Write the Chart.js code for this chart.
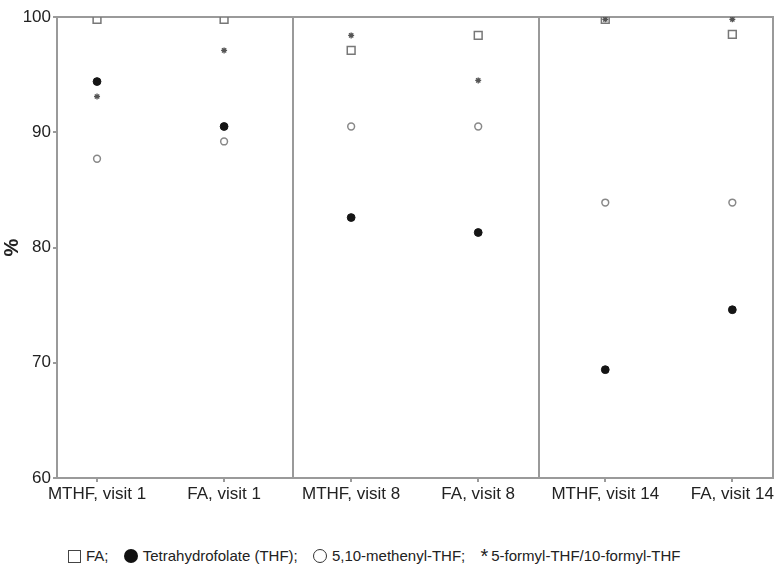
<!DOCTYPE html>
<html>
<head>
<meta charset="utf-8">
<script src="https://cdn.jsdelivr.net/npm/chart.js@4"></script>
<style>
  body { margin: 0; background: #fff; font-family: "Liberation Sans", Arial, sans-serif; }
  #wrap { position: relative; width: 775px; height: 520px; }
  #legend { position: absolute; left: 68px; top: 547px; font-size: 15px; line-height: 18px; color: #222; white-space: nowrap; }
  #legend span.sym { display: inline-block; vertical-align: -2px; margin-right: 5px; }
  .sq { width: 13px; height: 13px; border: 1px solid #444; box-sizing: border-box; }
  .dot { width: 14px; height: 14px; border-radius: 50%; background: #111; }
  .ring { width: 14px; height: 14px; border-radius: 50%; border: 1px solid #333; box-sizing: border-box; }
  #legend span.ast { font-size: 20px; line-height: 10px; vertical-align: baseline; position: relative; top: 2px; margin-right: 3px; }
  .gap { display: inline-block; width: 11px; }
</style>
</head>
<body>
<div id="wrap"><canvas id="myChart" width="775" height="520"></canvas></div>
<div id="legend">
  <span class="sym sq"></span>FA;<span class="gap"></span>
  <span class="sym dot"></span>Tetrahydrofolate (THF);<span class="gap"></span>
  <span class="sym ring"></span>5,10-methenyl-THF;<span class="gap"></span>
  <span class="sym ast">*</span>5-formyl-THF/10-formyl-THF
</div>
<script>
// categories along x
const groups = ['MTHF, visit 1', 'FA, visit 1', 'MTHF, visit 8', 'FA, visit 8', 'MTHF, visit 14', 'FA, visit 14'];
// % values per folate form
const faValues = [99.8, 99.8, 97.1, 98.4, 99.8, 98.5];
const thfValues = [94.4, 90.5, 82.6, 81.3, 69.4, 74.6];
const methenylValues = [87.7, 89.2, 90.5, 90.5, 83.9, 83.9];
const formylValues = [93.1, 97.1, 98.4, 94.5, 99.8, 99.8];
const yTicks = [60, 70, 80, 90, 100];
// panel dividers, in category units
const dividers = [1.54, 3.48];

const toPts = vals => vals.map((v, i) => ({x: i, y: v}));

const dividerPlugin = {
  id: 'dividers',
  beforeDatasetsDraw(chart) {
    const {ctx, chartArea, scales} = chart;
    ctx.save();
    ctx.strokeStyle = '#9a9a9a';
    ctx.lineWidth = 2;
    dividers.forEach(d => {
      const x = Math.round(scales.x.getPixelForValue(d));
      ctx.beginPath();
      ctx.moveTo(x, chartArea.top);
      ctx.lineTo(x, chartArea.bottom);
      ctx.stroke();
    });
    // top and right border of the box
    ctx.beginPath();
    ctx.moveTo(chartArea.left, chartArea.top);
    ctx.lineTo(chartArea.right, chartArea.top);
    ctx.lineTo(chartArea.right, chartArea.bottom);
    ctx.stroke();
    ctx.restore();
  }
};

new Chart('myChart', {
  type: 'scatter',
  data: {
    datasets: [{
      label: 'FA',
      data: toPts(faValues),
      pointStyle: 'rect',
      pointRadius: 5.5,
      backgroundColor: 'rgba(255,255,255,0)',
      borderColor: '#777',
      borderWidth: 1.5
    }, {
      label: 'Tetrahydrofolate (THF)',
      data: toPts(thfValues),
      pointStyle: 'circle',
      pointRadius: 3.9,
      backgroundColor: '#151515',
      borderColor: '#151515',
      borderWidth: 1
    }, {
      label: '5,10-methenyl-THF',
      data: toPts(methenylValues),
      pointStyle: 'circle',
      pointRadius: 3.4,
      backgroundColor: 'rgba(255,255,255,0)',
      borderColor: '#888',
      borderWidth: 1.5
    }, {
      label: '5-formyl-THF/10-formyl-THF',
      data: toPts(formylValues),
      pointStyle: 'star',
      pointRadius: 3,
      backgroundColor: '#555',
      borderColor: '#555',
      borderWidth: 1.3
    }]
  },
  options: {
    responsive: false,
    animation: false,
    layout: { autoPadding: false, padding: { top: 17, right: 2, left: 0, bottom: 0 } },
    plugins: {
      legend: { display: false },
      tooltip: { enabled: false }
    },
    scales: {
      x: {
        type: 'linear',
        min: -0.315,
        max: 5.32,
        afterBuildTicks: s => { s.ticks = groups.map((g, i) => ({value: i})); },
        afterFit: s => { s.height = 42; s.paddingLeft = 0; s.paddingRight = 0; },
        grid: { drawOnChartArea: false, drawTicks: true, tickLength: 4, color: '#9a9a9a', lineWidth: 2 },
        border: { color: '#9a9a9a', width: 2 },
        ticks: {
          autoSkip: false,
          maxRotation: 0,
          padding: 2,
          color: '#222',
          font: { family: 'Liberation Sans', size: 17 },
          callback: v => groups[v]
        }
      },
      y: {
        min: 60,
        max: 100,
        afterBuildTicks: s => { s.ticks = yTicks.map(v => ({value: v})); },
        afterFit: s => { s.width = 57; },
        grid: { drawOnChartArea: false, drawTicks: true, tickLength: 4, color: '#9a9a9a', lineWidth: 2 },
        border: { color: '#9a9a9a', width: 2 },
        title: {
          display: true,
          text: '%',
          color: '#222',
          padding: 0,
          font: { family: 'Liberation Sans', size: 20, weight: 'bold' }
        },
        ticks: {
          padding: 2,
          color: '#222',
          font: { family: 'Liberation Sans', size: 17 }
        }
      }
    }
  },
  plugins: [dividerPlugin]
});
</script>
</body>
</html>
